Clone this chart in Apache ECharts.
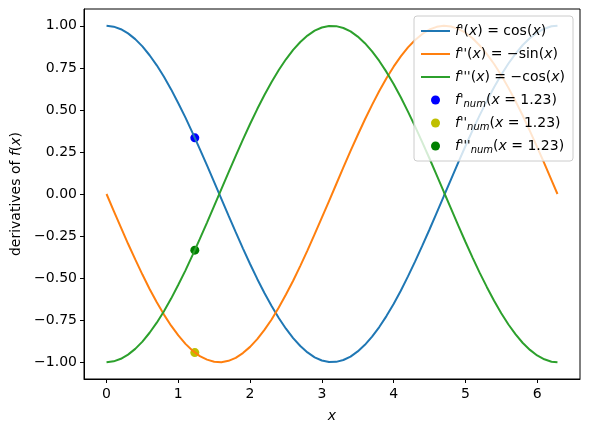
<!DOCTYPE html>
<html>
<head>
<meta charset="utf-8">
<script src="https://cdn.jsdelivr.net/npm/echarts@6/dist/echarts.min.js"></script>
<style>
  html, body { margin: 0; padding: 0; background: #fff; }
  #chart { width: 589px; height: 432px; }
</style>
</head>
<body>
<div id="chart"></div>
<script>
// x samples
const xs = [0, 0.1, 0.2, 0.3, 0.4, 0.5, 0.6, 0.7, 0.8, 0.9, 1.0, 1.1, 1.2, 1.3, 1.4, 1.5, 1.6, 1.7, 1.8, 1.9,
  2.0, 2.1, 2.2, 2.3, 2.4, 2.5, 2.6, 2.7, 2.8, 2.9, 3.0, 3.1, 3.2, 3.3, 3.4, 3.5, 3.6, 3.7, 3.8, 3.9,
  4.0, 4.1, 4.2, 4.3, 4.4, 4.5, 4.6, 4.7, 4.8, 4.9, 5.0, 5.1, 5.2, 5.3, 5.4, 5.5, 5.6, 5.7, 5.8, 5.9,
  6.0, 6.1, 6.2, 6.283]

const firstDeriv = [1.000, 0.995, 0.980, 0.955, 0.921, 0.878, 0.825, 0.765, 0.697, 0.622, 0.540, 0.454, 0.362, 0.267, 0.170, 0.071,
  -0.029, -0.129, -0.227, -0.323, -0.416, -0.505, -0.589, -0.666, -0.737, -0.801, -0.857, -0.904, -0.942, -0.971, -0.990, -0.999,
  -0.998, -0.987, -0.967, -0.936, -0.897, -0.848, -0.791, -0.726, -0.654, -0.575, -0.490, -0.401, -0.307, -0.211, -0.112, -0.012,
  0.087, 0.187, 0.284, 0.378, 0.469, 0.554, 0.635, 0.709, 0.776, 0.835, 0.886, 0.927, 0.960, 0.983, 0.997, 1.000]

const secondDeriv = [0.000, -0.100, -0.199, -0.296, -0.389, -0.479, -0.565, -0.644, -0.717, -0.783, -0.841, -0.891, -0.932, -0.964, -0.985, -0.997,
  -1.000, -0.992, -0.974, -0.946, -0.909, -0.863, -0.808, -0.746, -0.675, -0.598, -0.516, -0.427, -0.335, -0.239, -0.141, -0.042,
  0.058, 0.158, 0.256, 0.351, 0.443, 0.530, 0.612, 0.688, 0.757, 0.818, 0.872, 0.916, 0.952, 0.978, 0.994, 1.000,
  0.996, 0.982, 0.959, 0.926, 0.883, 0.832, 0.773, 0.706, 0.631, 0.551, 0.465, 0.374, 0.279, 0.182, 0.083, 0.000]

const thirdDeriv = [-1.000, -0.995, -0.980, -0.955, -0.921, -0.878, -0.825, -0.765, -0.697, -0.622, -0.540, -0.454, -0.362, -0.267, -0.170, -0.071,
  0.029, 0.129, 0.227, 0.323, 0.416, 0.505, 0.589, 0.666, 0.737, 0.801, 0.857, 0.904, 0.942, 0.971, 0.990, 0.999,
  0.998, 0.987, 0.967, 0.936, 0.897, 0.848, 0.791, 0.726, 0.654, 0.575, 0.490, 0.401, 0.307, 0.211, 0.112, 0.012,
  -0.087, -0.187, -0.284, -0.378, -0.469, -0.554, -0.635, -0.709, -0.776, -0.835, -0.886, -0.927, -0.960, -0.983, -0.997, -1.000]

// numerical estimates at x = 1.23
const xNum = 1.23
const numValues = [0.334, -0.943, -0.334]

const xTicks = [0, 1, 2, 3, 4, 5, 6]
const yTicks = [-1, -0.75, -0.5, -0.25, 0, 0.25, 0.5, 0.75, 1]

const FONT = 'DejaVu Sans'
const pair = (ys) => xs.map((x, i) => [x, ys[i]])
const fmtNum = (v) => (v < 0 ? '\u2212' : '') + Math.abs(v).toFixed(2)

const legendText = {
  d1: "{i|f}{p|'}({i|x}) = cos({i|x})",
  d2: "{i|f}{p|''}({i|x}) = \u2212sin({i|x})",
  d3: "{i|f}{p|'''}({i|x}) = \u2212cos({i|x})",
  n1: "{i|f}{p|'}{s|num}({i|x} = 1.23)",
  n2: "{i|f}{p|''}{s|num}({i|x} = 1.23)",
  n3: "{i|f}{p|'''}{s|num}({i|x} = 1.23)",
}

const chart = echarts.init(document.getElementById('chart'))
chart.setOption({
  animation: false,
  textStyle: { fontFamily: FONT },
  grid: { left: 84, right: 9, top: 9, bottom: 53, show: true, borderColor: '#000', borderWidth: 1, backgroundColor: 'transparent' },
  legend: {
    orient: 'vertical',
    right: 16,
    top: 16,
    padding: [6, 8, 6, 6],
    itemWidth: 29,
    itemHeight: 9,
    itemGap: 5,
    backgroundColor: 'rgba(255,255,255,0.8)',
    borderColor: '#cccccc',
    borderWidth: 1,
    borderRadius: 3,
    data: [
      { name: 'd1', itemStyle: { opacity: 0 } },
      { name: 'd2', itemStyle: { opacity: 0 } },
      { name: 'd3', itemStyle: { opacity: 0 } },
      'n1', 'n2', 'n3',
    ],
    formatter: (name) => legendText[name],
    textStyle: {
      fontFamily: FONT,
      fontSize: 14,
      color: '#000',
      lineHeight: 18,
      rich: {
        i: { fontFamily: FONT, fontSize: 14, fontStyle: 'italic', lineHeight: 18 },
        p: { fontFamily: FONT, fontSize: 13, lineHeight: 18 },
        s: { fontFamily: FONT, fontSize: 10, fontStyle: 'italic', verticalAlign: 'bottom', lineHeight: 18 },
      },
    },
  },
  xAxis: {
    type: 'value',
    min: -0.314,
    max: 6.597,
    name: 'x',
    nameLocation: 'middle',
    nameGap: 30,
    nameTextStyle: { fontFamily: FONT, fontSize: 14, fontStyle: 'italic', color: '#000' },
    axisLine: { show: true, onZero: false, lineStyle: { color: '#000', width: 1 } },
    axisTick: { show: true, length: 4, customValues: xTicks, lineStyle: { color: '#000' } },
    axisLabel: { customValues: xTicks, fontFamily: FONT, fontSize: 14, color: '#000', margin: 8 },
    splitLine: { show: false },
  },
  yAxis: {
    type: 'value',
    min: -1.1,
    max: 1.1,
    name: 'derivatives of {i|f}({i|x})',
    nameLocation: 'middle',
    nameRotate: 90,
    nameGap: 58,
    nameTextStyle: {
      fontFamily: FONT, fontSize: 14, color: '#000',
      rich: { i: { fontFamily: FONT, fontSize: 14, fontStyle: 'italic' } },
    },
    axisLine: { show: true, onZero: false, lineStyle: { color: '#000', width: 1 } },
    axisTick: { show: true, length: 4, customValues: yTicks, lineStyle: { color: '#000' } },
    axisLabel: { customValues: yTicks, formatter: fmtNum, fontFamily: FONT, fontSize: 14, color: '#000', margin: 7 },
    splitLine: { show: false },
  },
  series: [
    { name: 'd1', type: 'line', data: pair(firstDeriv), symbol: 'none', lineStyle: { color: '#1f77b4', width: 2 }, itemStyle: { color: '#1f77b4' } },
    { name: 'd2', type: 'line', data: pair(secondDeriv), symbol: 'none', lineStyle: { color: '#ff7f0e', width: 2 }, itemStyle: { color: '#ff7f0e' } },
    { name: 'd3', type: 'line', data: pair(thirdDeriv), symbol: 'none', lineStyle: { color: '#2ca02c', width: 2 }, itemStyle: { color: '#2ca02c' } },
    { name: 'n1', type: 'scatter', data: [[xNum, numValues[0]]], symbolSize: 9, itemStyle: { color: '#0000ff', opacity: 1 } },
    { name: 'n2', type: 'scatter', data: [[xNum, numValues[1]]], symbolSize: 9, itemStyle: { color: '#bfbf00', opacity: 1 } },
    { name: 'n3', type: 'scatter', data: [[xNum, numValues[2]]], symbolSize: 9, itemStyle: { color: '#008000', opacity: 1 } },
  ],
})
</script>
</body>
</html>
